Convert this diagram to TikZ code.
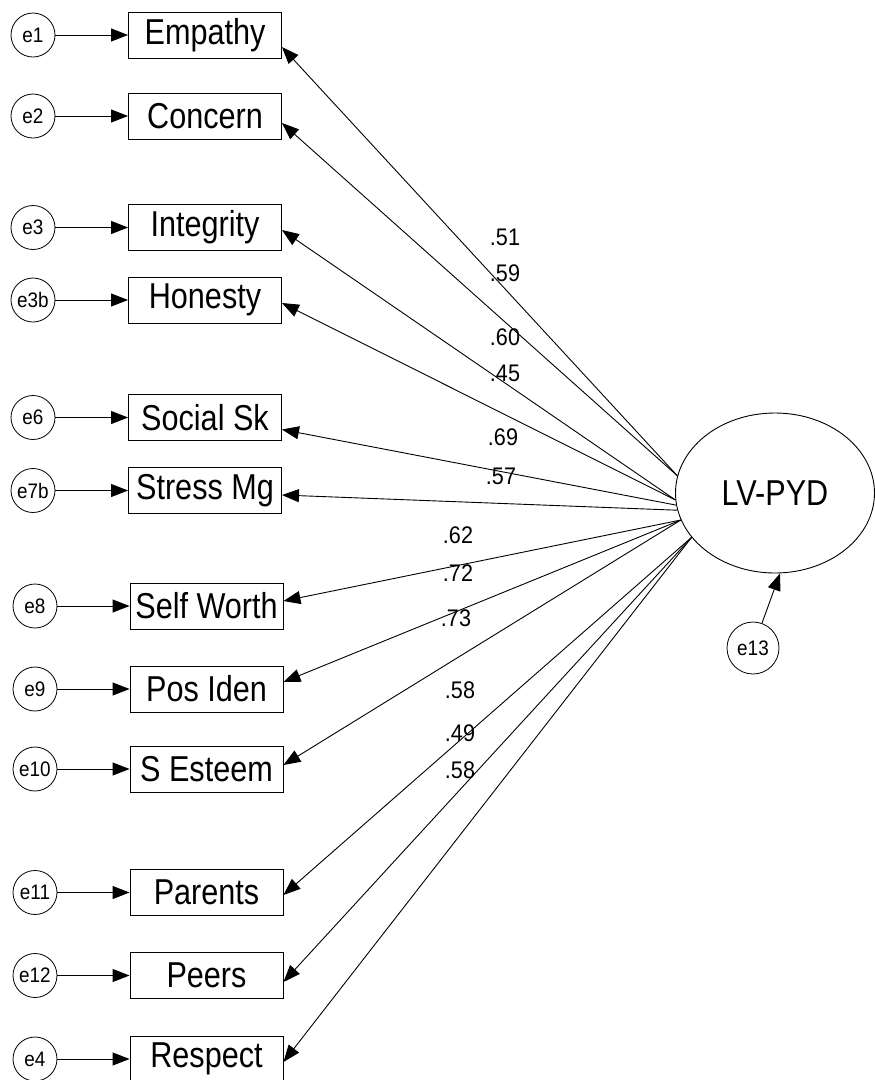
\documentclass[tikz,border=0pt]{standalone}
\usepackage{fontspec}
\setmainfont{Liberation Sans}[FakeStretch=0.9]
\newfontfamily\boxfont{Liberation Sans}[FakeStretch=0.85]
\usetikzlibrary{arrows.meta,shapes.geometric}

\begin{document}
\begin{tikzpicture}[x=1pt,y=-1pt,
  every node/.style={inner sep=0pt},
  obs/.style={draw, line width=0.9pt, minimum width=153pt, minimum height=46pt,
    font=\boxfont\fontsize{36}{40}\selectfont},
  err/.style={draw, circle, line width=0.8pt, minimum size=44pt,
    font=\fontsize{21}{24}\selectfont},
  lat/.style={draw, ellipse, line width=0.9pt, minimum width=199pt, minimum height=160pt,
    font=\boxfont\fontsize{36}{40}\selectfont},
  arr/.style={line width=0.9pt, -{Triangle[length=17pt,width=13pt]}},
  coef/.style={font=\fontsize{24}{28}\selectfont}
]
\useasboundingbox (0,0) rectangle (875,1080);

% observed indicators
\node[obs] (emp) at (205,35)    {Empathy};
\node[obs] (con) at (205,116)   {Concern};
\node[obs] (int) at (205,227.5) {Integrity};
\node[obs] (hon) at (205,300)   {Honesty};
\node[obs] (soc) at (205,417.5) {Social Sk};
\node[obs] (str) at (205,490.5) {Stress Mg};
\node[obs] (sw)  at (206.5,606) {Self Worth};
\node[obs] (pid) at (206.5,689) {Pos Iden};
\node[obs] (se)  at (206.5,769) {S Esteem};
\node[obs] (par) at (206.5,892.5)  {Parents};
\node[obs] (pee) at (206.5,975.5)  {Peers};
\node[obs] (res) at (206.5,1059)   {Respect};

% error terms
\node[err] (e1)  at (33,35)    {e1};
\node[err] (e2)  at (33,116)   {e2};
\node[err] (e3)  at (33,227.5) {e3};
\node[err] (e3b) at (33,300)   {e3b};
\node[err] (e6)  at (33,417.5) {e6};
\node[err] (e7b) at (33,490.5) {e7b};
\node[err] (e8)  at (35,606)   {e8};
\node[err] (e9)  at (35,689)   {e9};
\node[err] (e10) at (35,769)   {e10};
\node[err] (e11) at (35,892.5) {e11};
\node[err] (e12) at (35,975.5) {e12};
\node[err] (e4)  at (35,1059)  {e4};

% latent variable and its disturbance
\node[lat] (lv) at (775,493) {LV-PYD};
\node[err, minimum size=52pt] (e13) at (753,648) {e13};

% error paths
\foreach \e/\o in {e1/emp,e2/con,e3/int,e3b/hon,e6/soc,e7b/str,e8/sw,e9/pid,e10/se,e11/par,e12/pee,e4/res}
  \draw[arr] (\e) -- (\o);

\draw[arr] (e13) -- ([xshift=5pt]lv.south);

% factor loadings
\draw[arr] (lv.170.7) -- ([yshift=-12pt]emp.east);
\draw[arr] (lv.170.7) -- ([yshift=-7pt]con.east);
\draw[arr] (lv.184)   -- ([yshift=-2.5pt]int.east);
\draw[arr] (lv.184)   -- ([yshift=-3pt]hon.east);
\draw[arr] (lv.187)   -- ([yshift=-12pt]soc.east);
\draw[arr] (lv.190)   -- ([yshift=-4.5pt]str.east);
\draw[arr] (lv.196.2) -- ([yshift=5pt]sw.east);
\draw[arr] (lv.196.2) -- ([yshift=7pt]pid.east);
\draw[arr] (lv.196.2) -- ([yshift=4pt]se.east);
\draw[arr] (lv.208)   -- ([yshift=-2.5pt]par.east);
\draw[arr] (lv.208)   -- ([yshift=-6.5pt]pee.east);
\draw[arr] (lv.208)   -- ([yshift=-3pt]res.east);

% loading values
\node[coef] (c1)  at (505,237) {.51};
\node[coef] (c2)  at (505,273) {.59};
\node[coef] (c3)  at (505,337) {.60};
\node[coef] (c4)  at (505,373) {.45};
\node[coef] (c5)  at (503,437) {.69};
\node[coef] (c6)  at (501,476) {.57};
\node[coef] (c7)  at (458,535) {.62};
\node[coef] (c8)  at (458,573) {.72};
\node[coef] (c9)  at (456,618) {.73};
\node[coef] (c10) at (460,690) {.58};
\node[coef] (c11) at (460,733) {.49};
\node[coef] (c12) at (460,770) {.58};
\end{tikzpicture}
\end{document}
